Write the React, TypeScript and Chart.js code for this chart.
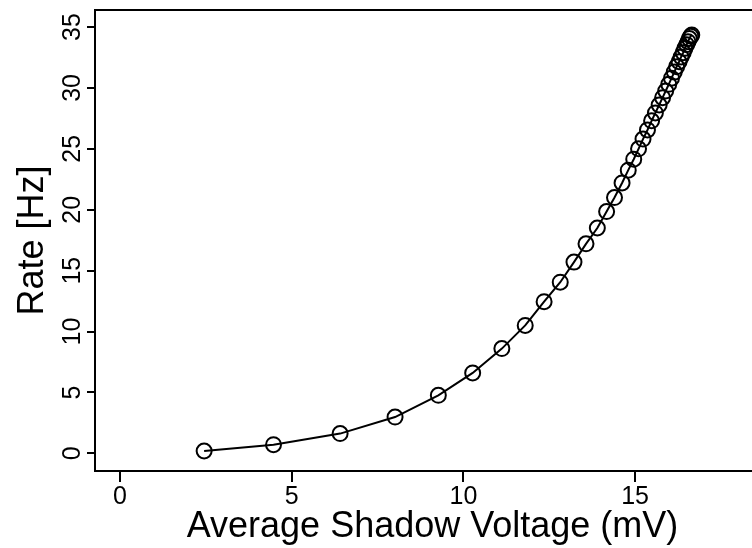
import React, { useEffect, useRef } from "react";
import { Chart, registerables } from "chart.js";

Chart.register(...registerables);

// Data
const voltage = [
  2.45, 4.47, 6.41, 8.01, 9.27, 10.27, 11.12, 11.8, 12.35, 12.82,
  13.22, 13.57, 13.9, 14.17, 14.4, 14.62, 14.8, 14.96, 15.1, 15.23,
  15.36, 15.48, 15.59, 15.7, 15.8, 15.89, 15.98, 16.06, 16.14, 16.21,
  16.28, 16.34, 16.4, 16.45, 16.5, 16.54, 16.58, 16.62, 16.65,
];
const rate = [
  0.19, 0.71, 1.62, 2.98, 4.76, 6.6, 8.6, 10.5, 12.45, 14.05,
  15.7, 17.2, 18.5, 19.85, 21.0, 22.2, 23.25, 24.15, 25.0, 25.8,
  26.55, 27.3, 27.95, 28.6, 29.2, 29.75, 30.3, 30.8, 31.3, 31.75,
  32.15, 32.55, 32.9, 33.25, 33.55, 33.8, 34.05, 34.25, 34.35,
];
const xTickValues = [0, 5, 10, 15];
const yTickValues = [0, 5, 10, 15, 20, 25, 30, 35];
const xTitle = "Average Shadow Voltage (mV)";
const yTitle = "Rate [Hz]";

const X_MIN = -0.728;
const X_MAX = 18.928;
const Y_MIN = -1.45;
const Y_MAX = 36.4;

const CANVAS_W = 780;
const CANVAS_H = 548;
const FONT = '"Liberation Sans", Arial, Helvetica, sans-serif';

export default function App() {
  const ref = useRef<HTMLCanvasElement>(null);

  useEffect(() => {
    if (!ref.current) return;

    const framePlugin = {
      id: "frame",
      afterDraw(chart: any) {
        const { ctx, chartArea, scales } = chart;
        const xs = scales.x;
        const ys = scales.y;
        ctx.save();
        ctx.strokeStyle = "#000";
        ctx.lineWidth = 2;
        ctx.beginPath();
        ctx.moveTo(chartArea.left - 1, chartArea.top);
        ctx.lineTo(chartArea.right + 1, chartArea.top);
        ctx.stroke();

        ctx.fillStyle = "#000";
        ctx.textAlign = "center";
        ctx.textBaseline = "alphabetic";
        ctx.font = `25px ${FONT}`;
        xs.ticks.forEach((t: any) => {
          ctx.fillText(String(t.value), xs.getPixelForValue(t.value), chartArea.bottom + 33);
        });
        ys.ticks.forEach((t: any) => {
          const y = ys.getPixelForValue(t.value);
          ctx.save();
          ctx.translate(chartArea.left - 15, y);
          ctx.rotate(-Math.PI / 2);
          ctx.fillText(String(t.value), 0, 0);
          ctx.restore();
        });

        ctx.font = `36px ${FONT}`;
        ctx.fillText(xTitle, (chartArea.left + chartArea.right) / 2, chartArea.bottom + 66);
        ctx.save();
        ctx.translate(chartArea.left - 52, (chartArea.top + chartArea.bottom) / 2);
        ctx.rotate(-Math.PI / 2);
        ctx.fillText(yTitle, 0, 0);
        ctx.restore();
        ctx.restore();
      },
    };

    const chart = new Chart(ref.current, {
      type: "scatter",
      data: {
        datasets: [
          {
            data: voltage.map((v, i) => ({ x: v, y: rate[i] })),
            showLine: true,
            borderColor: "#000",
            borderWidth: 2,
            tension: 0,
            pointRadius: 7.5,
            pointHoverRadius: 7.5,
            pointBorderWidth: 2,
            pointBorderColor: "#000",
            pointBackgroundColor: "rgba(0,0,0,0)",
            pointStyle: "circle",
          },
        ],
      },
      options: {
        responsive: false,
        maintainAspectRatio: false,
        devicePixelRatio: 1,
        animation: false,
        events: [],
        layout: { padding: { top: 10, left: 0, right: CANVAS_W - 770, bottom: 0 } },
        plugins: {
          legend: { display: false },
          tooltip: { enabled: false },
        },
        scales: {
          x: {
            type: "linear",
            min: X_MIN,
            max: X_MAX,
            afterBuildTicks: (s: any) => {
              s.ticks = xTickValues.map((v) => ({ value: v }));
            },
            afterFit: (s: any) => {
              s.height = 77;
            },
            ticks: { display: false },
            grid: {
              display: true,
              drawOnChartArea: false,
              drawTicks: true,
              tickLength: 11,
              color: "#000",
              lineWidth: 2,
            },
            border: { display: true, color: "#000", width: 2 },
          },
          y: {
            type: "linear",
            min: Y_MIN,
            max: Y_MAX,
            afterBuildTicks: (s: any) => {
              s.ticks = yTickValues.map((v) => ({ value: v }));
            },
            afterFit: (s: any) => {
              s.width = 95;
            },
            ticks: { display: false },
            grid: {
              display: true,
              drawOnChartArea: false,
              drawTicks: true,
              tickLength: 8,
              color: "#000",
              lineWidth: 2,
            },
            border: { display: true, color: "#000", width: 2 },
          },
        },
      },
      plugins: [framePlugin],
    });

    return () => chart.destroy();
  }, []);

  return (
    <div
      style={{
        position: "absolute",
        left: 0,
        top: 0,
        width: 752,
        height: 548,
        overflow: "hidden",
        background: "#fff",
      }}
    >
      <canvas ref={ref} width={CANVAS_W} height={CANVAS_H} style={{ display: "block" }} />
    </div>
  );
}
